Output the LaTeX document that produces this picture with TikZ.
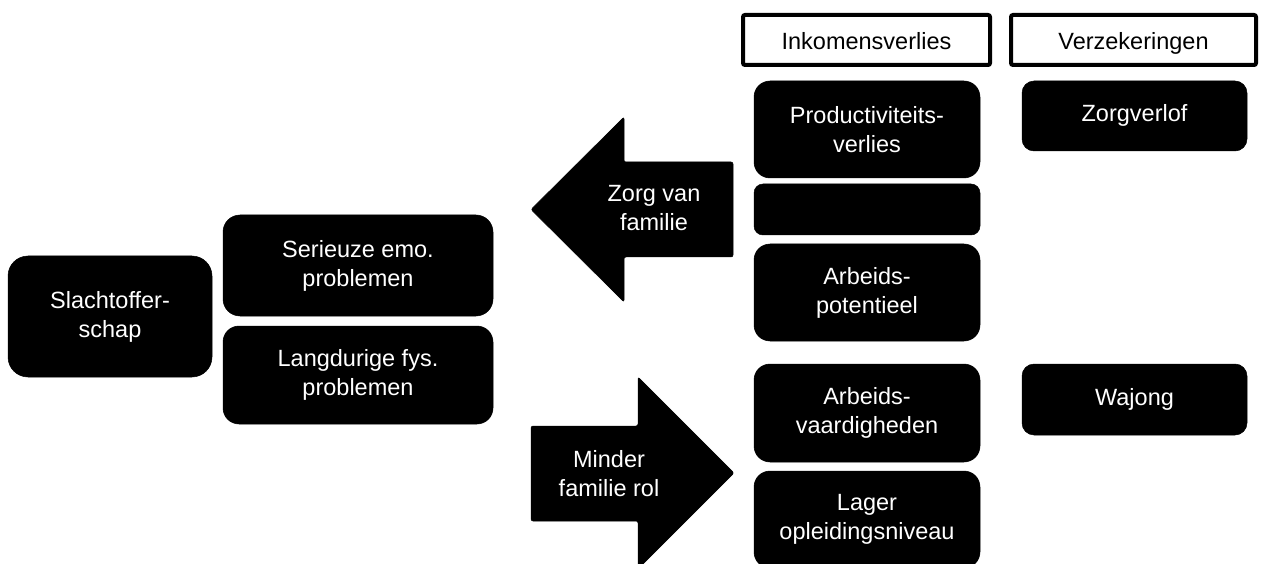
\documentclass[tikz,border=0pt]{standalone}
\usepackage{fontspec}
\setmainfont{Liberation Sans}
\begin{document}
\begin{tikzpicture}[x=1pt,y=-1pt,
  blk/.style={fill=black,draw=black,line width=0.5pt,text=white,align=center,inner sep=0pt,
    font=\fontsize{23.5}{29}\selectfont},
  oneline/.style={text height=17pt,text depth=5pt},
  hdr/.style={fill=white,draw=black,line width=4pt,rounded corners=2pt,text=black,align=center,inner sep=0pt,
    text height=25pt,text depth=5pt,font=\fontsize{23.5}{29}\selectfont},
  arrowshape/.style={fill=black,draw=black,line width=0.5pt,rounded corners=2pt},
  arrowtext/.style={text=white,align=center,inner sep=0pt,font=\fontsize{23.5}{29}\selectfont}]
\useasboundingbox (0,0) rectangle (1275,564);
\clip (0,0) rectangle (1275,564);
% headers
\node[hdr,minimum width=247pt,minimum height=50pt] (hinc) at (866.5,40) {Inkomensverlies};
\node[hdr,minimum width=245pt,minimum height=50pt] (hverz) at (1133.5,40) {Verzekeringen};
% right column boxes
\node[blk,rounded corners=16pt,minimum width=226pt,minimum height=97pt] (prod) at (867,129.5) {Productiviteits-\\verlies};
\node[blk,oneline,rounded corners=12pt,minimum width=225pt,minimum height=70pt] (zorgv) at (1134.5,116) {Zorgverlof};
\node[blk,rounded corners=9pt,minimum width=226pt,minimum height=51pt] (leeg) at (867,209.5) {};
\node[blk,rounded corners=16pt,minimum width=226pt,minimum height=97pt] (apot) at (867,292.5) {Arbeids-\\potentieel};
\node[blk,rounded corners=16pt,minimum width=226pt,minimum height=98pt] (avaard) at (867,413) {Arbeids-\\vaardigheden};
\node[blk,oneline,rounded corners=12pt,minimum width=225pt,minimum height=71pt] (wajong) at (1134.5,399.5) {Wajong};
\node[blk,rounded corners=16pt,minimum width=226pt,minimum height=97pt] (lager) at (867,519.5) {Lager\\opleidingsniveau};
% left boxes
\node[blk,rounded corners=20pt,minimum width=204pt,minimum height=121pt] (slacht) at (110,316.5) {Slachtoffer-\\schap};
\node[blk,rounded corners=17pt,minimum width=270pt,minimum height=101pt] (seri) at (358,265.5) {Serieuze emo.\\problemen};
\node[blk,rounded corners=16pt,minimum width=270pt,minimum height=98pt] (lang) at (358,375) {Langdurige fys.\\problemen};
% arrows
\path[arrowshape] (531,209.5) -- (624,117) -- (624,162) -- (733,162) -- (733,257) -- (624,257) -- (624,302) -- cycle;
\node[arrowtext] (zorgfam) at (654,208) {Zorg van\\familie};
\path[arrowshape] (734,473) -- (638,377) -- (638,426) -- (531,426) -- (531,521) -- (638,521) -- (638,569) -- cycle;
\node[arrowtext] (minder) at (609,474) {Minder\\familie rol};
\end{tikzpicture}
\end{document}
